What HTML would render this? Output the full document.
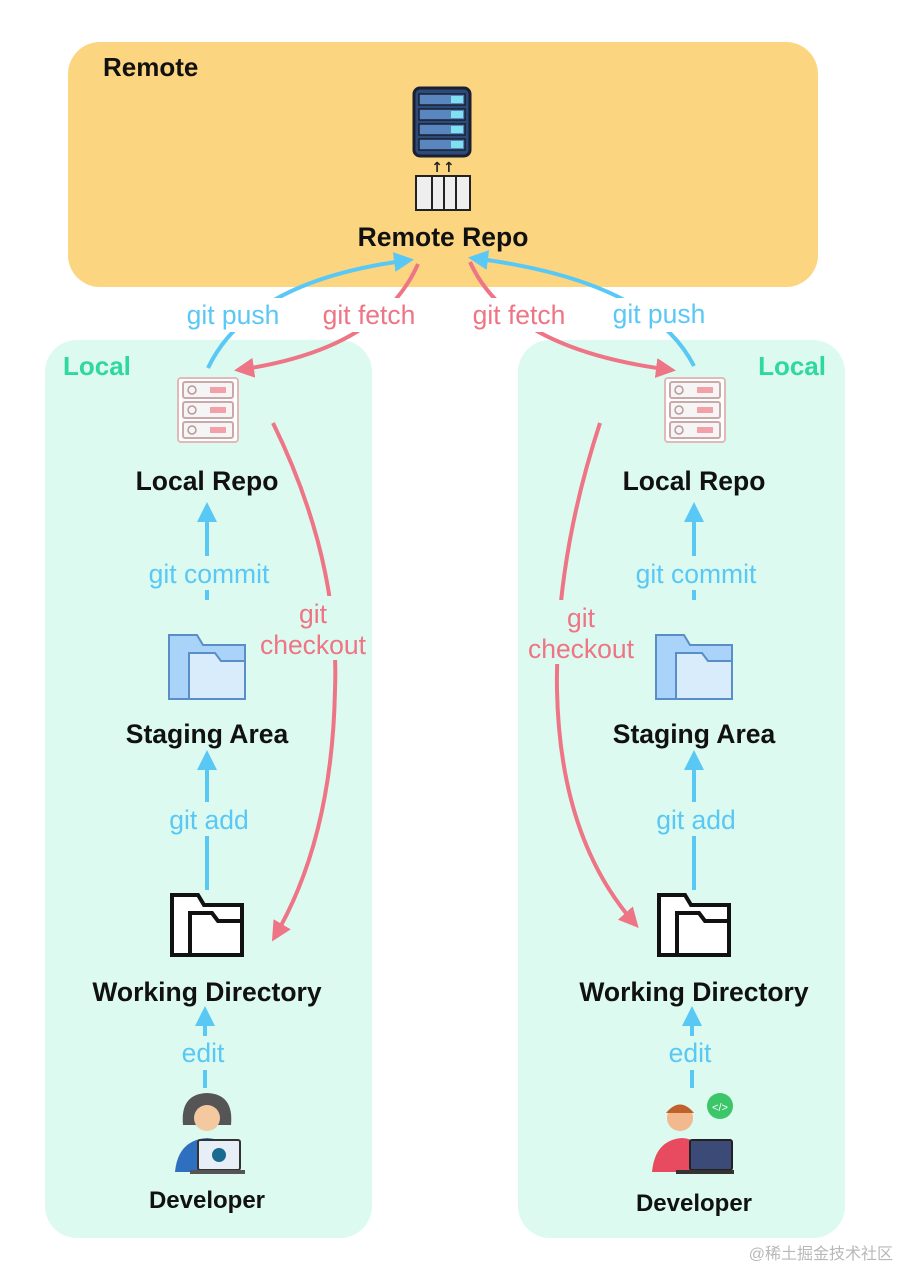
<!DOCTYPE html>
<html><head><meta charset="utf-8"><style>
html,body{margin:0;padding:0;background:#fff;width:900px;height:1269px;overflow:hidden}
svg{display:block}
.b{font-family:"Liberation Sans",sans-serif;font-weight:bold;fill:#111;text-anchor:middle}
.l{font-family:"Liberation Sans",sans-serif;font-size:26.5px;text-anchor:middle}
</style></head><body>
<svg width="900" height="1269" viewBox="0 0 900 1269" xmlns="http://www.w3.org/2000/svg">
<defs>
<marker id="ab" viewBox="0 0 10 10" refX="8" refY="5" markerWidth="5" markerHeight="5" orient="auto"><path d="M0,0L10,5L0,10z" fill="#5ac8f5"/></marker>
<marker id="ar" viewBox="0 0 10 10" refX="8" refY="5" markerWidth="5" markerHeight="5" orient="auto"><path d="M0,0L10,5L0,10z" fill="#ee7585"/></marker>
<g id="srv">
<rect x="0" y="0" width="60" height="64" rx="3" fill="#fff" stroke="#e3b8b8" stroke-width="2"/>
<rect x="5" y="4" width="50" height="16" rx="2" fill="#f5f5f5" stroke="#c9a9a9" stroke-width="2"/>
<rect x="5" y="24" width="50" height="16" rx="2" fill="#f5f5f5" stroke="#c9a9a9" stroke-width="2"/>
<rect x="5" y="44" width="50" height="16" rx="2" fill="#f5f5f5" stroke="#c9a9a9" stroke-width="2"/>
<circle cx="14" cy="12" r="4" fill="none" stroke="#b99" stroke-width="1.5"/><circle cx="14" cy="32" r="4" fill="none" stroke="#b99" stroke-width="1.5"/><circle cx="14" cy="52" r="4" fill="none" stroke="#b99" stroke-width="1.5"/>
<rect x="32" y="9" width="16" height="6" fill="#f3a0a8"/><rect x="32" y="29" width="16" height="6" fill="#f3a0a8"/><rect x="32" y="49" width="16" height="6" fill="#f3a0a8"/>
</g>
<g id="fb">
<path d="M0,0H28L34,10H76V64H0Z" fill="#a9d3f8" stroke="#5a8ec8" stroke-width="2"/>
<path d="M20,18H46L52,26H76V64H20Z" fill="#d9ecfc" stroke="#5a8ec8" stroke-width="2"/>
</g>
<g id="fk">
<path d="M2,2H28L34,12H72V62H2Z" fill="#fff" stroke="#111" stroke-width="4"/>
<path d="M20,20H42L48,28H72V62H20Z" fill="#fff" stroke="#111" stroke-width="4"/>
</g>
</defs>
<rect x="68" y="42" width="750" height="245" rx="32" fill="#fcd580"/>
<rect x="45" y="340" width="327" height="898" rx="32" fill="#dcfaef"/>
<rect x="518" y="340" width="327" height="898" rx="32" fill="#dcfaef"/>
<text x="103" y="76" class="b" style="text-anchor:start;font-size:26px">Remote</text>
<text x="63" y="375" style="font-family:'Liberation Sans',sans-serif;font-weight:bold;font-size:26px;fill:#2fd89f">Local</text>
<text x="826" y="375" style="font-family:'Liberation Sans',sans-serif;font-weight:bold;font-size:26px;fill:#2fd89f;text-anchor:end">Local</text>
<!-- remote server -->
<rect x="414" y="88" width="56" height="68" rx="6" fill="#2c4a7a" stroke="#1a2030" stroke-width="3"/>
<g fill="#5a86c0" stroke="#1a2030" stroke-width="1.5"><rect x="419" y="94" width="46" height="11"/><rect x="419" y="109" width="46" height="11"/><rect x="419" y="124" width="46" height="11"/><rect x="419" y="139" width="46" height="11"/></g>
<g fill="#7fe0f0"><rect x="451" y="96" width="12" height="7"/><rect x="451" y="111" width="12" height="7"/><rect x="451" y="126" width="12" height="7"/><rect x="451" y="141" width="12" height="7"/></g>
<text x="443" y="172" style="font-size:14px;font-family:'DejaVu Sans';font-weight:bold;fill:#222;text-anchor:middle">↑↑</text>
<rect x="416" y="176" width="54" height="34" fill="#eee" stroke="#222" stroke-width="2"/>
<path d="M432,176V210M444,176V210M456,176V210" stroke="#222" stroke-width="2"/>
<text x="443" y="246" class="b" style="font-size:26.5px">Remote Repo</text>
<!-- top arrows -->
<path d="M208,368 Q250,280 410,260" fill="none" stroke="#5ac8f5" stroke-width="4" marker-end="url(#ab)"/>
<path d="M418,264 Q380,350 238,370" fill="none" stroke="#ee7585" stroke-width="4" marker-end="url(#ar)"/>
<path d="M470,262 Q510,350 672,370" fill="none" stroke="#ee7585" stroke-width="4" marker-end="url(#ar)"/>
<path d="M694,366 Q650,280 472,258" fill="none" stroke="#5ac8f5" stroke-width="4" marker-end="url(#ab)"/>
<g fill="#fff">
<rect x="184" y="298" width="100" height="34"/><rect x="318" y="298" width="102" height="34"/>
<rect x="468" y="298" width="102" height="34"/><rect x="610" y="298" width="100" height="34"/>
</g>
<g class="l">
<text x="233" y="324" fill="#5ac8f5">git push</text>
<text x="369" y="324" fill="#ee7585">git fetch</text>
<text x="519" y="324" fill="#ee7585">git fetch</text>
<text x="659" y="323" fill="#5ac8f5">git push</text>
</g>
<!-- columns -->
<g id="col">
<use href="#srv" x="178" y="378"/>
<text x="207" y="490" class="b" style="font-size:26.5px">Local Repo</text>
<path d="M207,600V506" stroke="#5ac8f5" stroke-width="4" marker-end="url(#ab)"/>
<rect x="140" y="556" width="136" height="34" fill="#dcfaef"/>
<text x="209" y="583" class="l" fill="#5ac8f5">git commit</text>
<use href="#fb" x="169" y="635"/>
<text x="207" y="743" class="b" style="font-size:26.5px">Staging Area</text>
<path d="M207,890V754" stroke="#5ac8f5" stroke-width="4" marker-end="url(#ab)"/>
<rect x="160" y="802" width="98" height="34" fill="#dcfaef"/>
<text x="209" y="829" class="l" fill="#5ac8f5">git add</text>
<use href="#fk" x="170" y="893"/>
<text x="207" y="1001" class="b" style="font-size:26.5px">Working Directory</text>
<path d="M205,1088V1010" stroke="#5ac8f5" stroke-width="4" marker-end="url(#ab)"/>
<rect x="172" y="1036" width="64" height="34" fill="#dcfaef"/>
<text x="203" y="1062" class="l" fill="#5ac8f5">edit</text>
</g>
<use href="#col" x="487"/>
<!-- developers -->
<g>
<path d="M183,1125 Q180,1094 207,1093 Q234,1094 231,1125 Z" fill="#555"/>
<circle cx="207" cy="1118" r="13" fill="#f4c9a0"/>
<path d="M190,1108 Q207,1095 224,1108" stroke="#555" stroke-width="5" fill="none"/>
<path d="M175,1172 Q178,1140 207,1138 Q236,1140 239,1172Z" fill="#2f6fc0"/>
<rect x="198" y="1140" width="42" height="30" rx="2" fill="#e8eef5" stroke="#333" stroke-width="2"/>
<circle cx="219" cy="1155" r="7" fill="#1a6a90"/>
<rect x="190" y="1170" width="55" height="4" fill="#555"/>
</g>
<g>
<circle cx="680" cy="1118" r="13" fill="#f2b98f"/>
<path d="M666,1113 Q680,1096 694,1113" fill="#c0602a"/>
<path d="M652,1172 Q655,1140 682,1138 Q709,1140 712,1172Z" fill="#e84a5f"/>
<rect x="690" y="1140" width="42" height="30" rx="2" fill="#3c4a78" stroke="#222" stroke-width="2"/>
<rect x="676" y="1170" width="58" height="4" fill="#333"/>
<circle cx="720" cy="1106" r="13" fill="#3cc66a"/>
<text x="720" y="1111" style="font-size:11px;font-family:'Liberation Sans';fill:#fff;text-anchor:middle">&lt;/&gt;</text>
</g>
<text x="207" y="1208" class="b" style="font-size:24px">Developer</text>
<text x="694" y="1211" class="b" style="font-size:24px">Developer</text>
<!-- checkout -->
<path d="M273,423 Q340,560 335,690 Q332,840 274,938" fill="none" stroke="#ee7585" stroke-width="4" marker-end="url(#ar)"/>
<path d="M600,423 Q555,560 557,690 Q560,840 636,925" fill="none" stroke="#ee7585" stroke-width="4" marker-end="url(#ar)"/>
<rect x="256" y="596" width="116" height="64" fill="#dcfaef"/>
<rect x="522" y="600" width="118" height="64" fill="#dcfaef"/>
<g class="l" fill="#ee7585">
<text x="313" y="623">git</text><text x="313" y="654">checkout</text>
<text x="581" y="627">git</text><text x="581" y="658">checkout</text>
</g>
<text x="893" y="1259" style="font-family:'Liberation Sans','Noto Sans CJK SC',sans-serif;font-size:16px;fill:#b8b8b8;text-anchor:end">@稀土掘金技术社区</text>
</svg>
</body></html>
